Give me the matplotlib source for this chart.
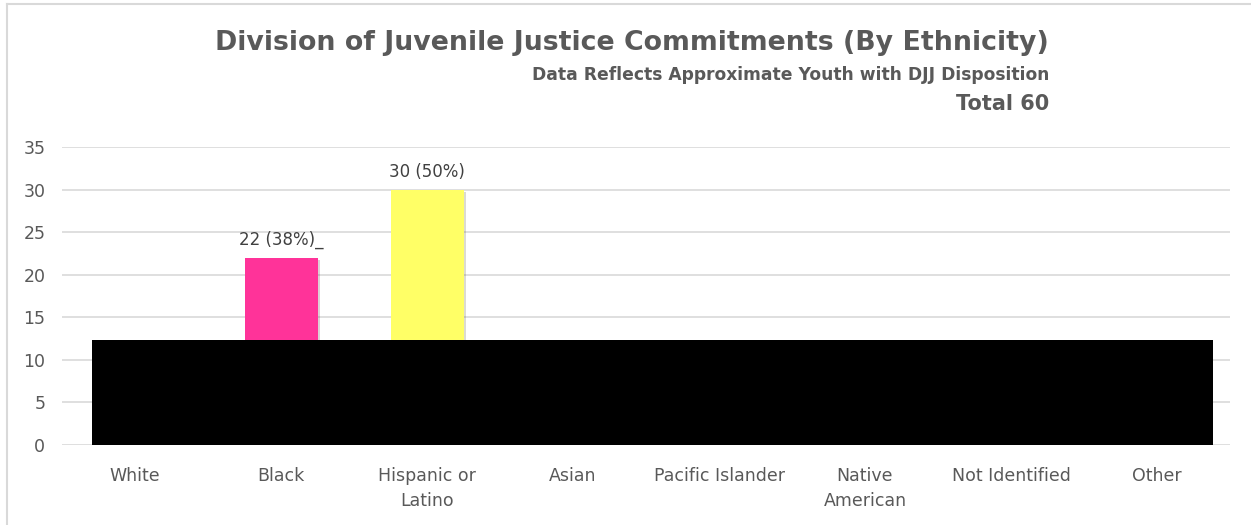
import numpy as np
import matplotlib.pyplot as plt
from matplotlib.patches import Rectangle
from matplotlib.lines import Line2D
import matplotlib.patheffects as pe

# data
categories = ['White', 'Black', 'Hispanic or\nLatino', 'Asian', 'Pacific Islander',
              'Native\nAmerican', 'Not Identified', 'Other']
counts = [6, 22, 30, 0, 0, 0, 1, 1]
bar_labels = ['', '22 (38%)_', '30 (50%)', '', '', '', '', '']
bar_colors = ['#5b9bd5', '#ff3399', '#ffff66', '#a5a5a5', '#70ad47', '#ed7d31', '#4472c4', '#7f7f7f']
yticks = [0, 5, 10, 15, 20, 25, 30, 35]

title = 'Division of Juvenile Justice Commitments (By Ethnicity)'
subtitle = 'Data Reflects Approximate Youth with DJJ Disposition'
total_text = 'Total 60'

grey = '#595959'
plt.rcParams['font.family'] = ['DejaVu Sans']

fig = plt.figure(figsize=(12.51, 5.25), dpi=100)
ax = fig.add_axes([62 / 1251, 1 - 445 / 525, 1168 / 1251, 298 / 525])

x = np.arange(len(categories))
bars = ax.bar(x, counts, width=0.5, color=bar_colors, zorder=3,
              path_effects=[pe.SimplePatchShadow(offset=(1.5, -1.5), alpha=0.2), pe.Normal()])
for xi, v, lab in zip(x, counts, bar_labels):
    if lab:
        ax.text(xi, v + 1.0, lab, ha='center', va='bottom', fontsize=12, color='#404040', zorder=4)

ax.set_xlim(-0.5, len(categories) - 0.5)
ax.set_ylim(0, 35)
ax.set_yticks(yticks)
ax.set_xticks(x)
ax.set_xticklabels(categories, fontsize=12.5, color=grey, linespacing=1.5)
ax.tick_params(axis='y', labelsize=12.5, labelcolor=grey, length=0, pad=12)
ax.tick_params(axis='x', length=0, pad=16)
ax.grid(axis='y', color='#d9d9d9', linewidth=1.2, zorder=0)
for s in ax.spines.values():
    s.set_visible(False)

# redaction box over the lower part of the plot
ax.add_patch(Rectangle((30 / 1168, 0), 1121 / 1168, 105 / 298, transform=ax.transAxes,
                       facecolor='black', edgecolor='none', zorder=5))

fig.text(632 / 1251, 1 - 43 / 525, title, ha='center', va='center',
         fontsize=19.3, fontweight='bold', color=grey)
fig.text(1049 / 1251, 1 - 75 / 525, subtitle, ha='right', va='center',
         fontsize=12.3, fontweight='bold', color=grey)
fig.text(1049 / 1251, 1 - 104 / 525, total_text, ha='right', va='center',
         fontsize=15, fontweight='bold', color=grey)

# outer frame (left and top only)
fig.add_artist(Line2D([6.5 / 1251, 6.5 / 1251], [0, 1 - 4 / 525], transform=fig.transFigure,
                      color='#d9d9d9', linewidth=1.5))
fig.add_artist(Line2D([6.5 / 1251, 1], [1 - 4 / 525, 1 - 4 / 525], transform=fig.transFigure,
                      color='#d9d9d9', linewidth=1.5))

fig.savefig('out.png', dpi=100)
